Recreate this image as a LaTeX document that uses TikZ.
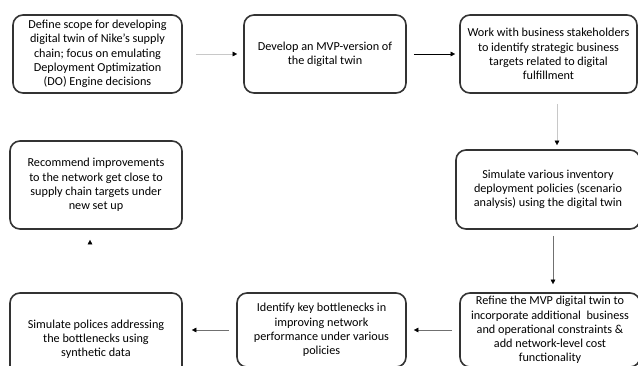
\documentclass[tikz,border=0pt]{standalone}
\usepackage{fontspec}
\setmainfont{Carlito}
\usetikzlibrary{arrows.meta}
\definecolor{boxline}{HTML}{333333}
\definecolor{faint}{HTML}{C8C8C8}

\begin{document}
\begin{tikzpicture}[x=1pt, y=-1pt]
    \tikzstyle{stepbox} += [rectangle, rounded corners=10pt, draw=boxline,
      line width=1.6pt, align=center, inner sep=0pt,
      font=\fontsize{12.2}{14.2}\selectfont];
    \tikzstyle{link} += [-{Triangle[length=4.5pt, width=4.5pt, black]}, line width=0.5pt];

    \useasboundingbox (0,0) rectangle (638,365);
    \clip (0,0) rectangle (638,365);

    \node (scope)  at ( 97.5,  54) [stepbox, minimum width=169pt, minimum height=78pt]
      {Define scope for developing\\digital twin of Nike’s supply\\chain; focus on emulating\\Deployment Optimization\\(DO) Engine decisions};
    \node (mvp)    at (  325,  54) [stepbox, minimum width=162pt, minimum height=78pt]
      {Develop an MVP-version of\\the digital twin};
    \node (targets) at (548.5, 54) [stepbox, minimum width=177pt, minimum height=78pt]
      {Work with business stakeholders\\to identify strategic business\\targets related to digital\\fulfillment};
    \node (simulate) at (548, 189.5) [stepbox, minimum width=184pt, minimum height=79pt]
      {Simulate various inventory\\deployment policies (scenario\\analysis) using the digital twin};
    \node (refine) at (550, 330) [stepbox, minimum width=180pt, minimum height=74pt]
      {Refine the MVP digital twin to\\incorporate additional\ \ business\\and operational constraints \&\\add network-level cost\\functionality};
    \node (bottle) at (321.5, 330) [stepbox, minimum width=169pt, minimum height=74pt]
      {Identify key bottlenecks in\\improving network\\performance under various\\policies};
    \node (synth)  at (   96, 339) [stepbox, minimum width=172pt, minimum height=92pt]
      {Simulate polices addressing\\the bottlenecks using\\synthetic data};
    \node (recommend) at (96, 185) [stepbox, minimum width=172pt, minimum height=88pt]
      {Recommend improvements\\to the network get close to\\supply chain targets under\\new set up};

    \draw[link, faint, shorten <=13pt, shorten >=6pt] (scope.east) -- (mvp.west);
    \draw[link, shorten <=7pt, shorten >=4pt] (mvp.east) -- (targets.west);
    \draw[link, faint] ([xshift=8.5pt, yshift=-10pt]targets.south) -- ([xshift=9pt, yshift=4pt]simulate.north);
    \draw[link, boxline!70] ([xshift=5pt, yshift=-6pt]simulate.south) -- ([xshift=3pt, yshift=8pt]refine.north);
    \draw[link, boxline!70, shorten <=7pt, shorten >=7pt] (refine.west) -- (bottle.east);
    \draw[link, boxline!70, shorten <=7pt, shorten >=9pt] (bottle.west) -- (bottle.west -| synth.east);
    \draw[link, white] ([xshift=-6pt, yshift=10pt]synth.north) -- ([xshift=-6pt, yshift=-10pt]recommend.south);
\end{tikzpicture}
\end{document}
